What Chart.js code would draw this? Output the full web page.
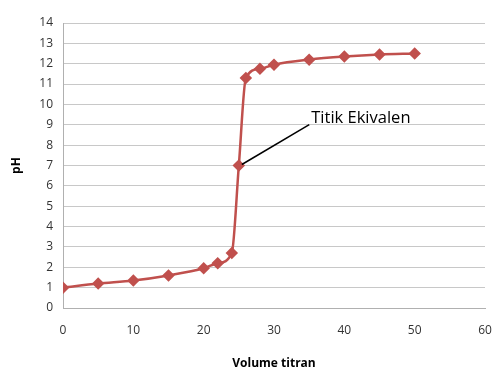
<!DOCTYPE html>
<html>
<head>
<meta charset="utf-8">
<script src="https://cdn.jsdelivr.net/npm/chart.js@4"></script>
<style>
  body { margin: 0; background: #fff; }
  #wrap { width: 497px; height: 373px; }
</style>
</head>
<body>
<div id="wrap"><canvas id="kurva"></canvas></div>
<script>
// volume titran (mL) dan pH
const volume = [0, 5, 10, 15, 20, 22, 24, 25, 26, 28, 30, 35, 40, 45, 50];
const ph = [1.0, 1.2, 1.35, 1.6, 1.95, 2.2, 2.7, 7.0, 11.3, 11.75, 11.95, 12.2, 12.35, 12.45, 12.5];
const xTicks = [0, 10, 20, 30, 40, 50, 60];
const yTicks = [0, 1, 2, 3, 4, 5, 6, 7, 8, 9, 10, 11, 12, 13, 14];

// label titik ekivalen
const ekivalen = { x: 25, y: 7, text: 'Titik Ekivalen', labelX: 35.3, labelY: 9.2 };

const labelEkivalen = {
  id: 'labelEkivalen',
  afterDatasetsDraw(chart) {
    const ctx = chart.ctx;
    const sx = chart.scales.x, sy = chart.scales.y;
    const px = sx.getPixelForValue(ekivalen.x) + 3;
    const py = sy.getPixelForValue(ekivalen.y) - 1;
    const lx = sx.getPixelForValue(ekivalen.labelX);
    const ly = sy.getPixelForValue(ekivalen.labelY);
    ctx.save();
    ctx.strokeStyle = '#000';
    ctx.lineWidth = 1.5;
    ctx.beginPath();
    ctx.moveTo(px, py);
    ctx.lineTo(lx - 2, ly + 4);
    ctx.stroke();
    ctx.fillStyle = '#000';
    ctx.font = '16.5px "Open Sans"';
    ctx.textBaseline = 'middle';
    ctx.fillText(ekivalen.text, lx, ly - 2);
    ctx.restore();
  }
};

const ctx = document.getElementById('kurva').getContext('2d');
new Chart(ctx, {
  type: 'line',
  data: {
    datasets: [{
      data: volume.map((v, i) => ({ x: v, y: ph[i] })),
      borderColor: '#C0504D',
      backgroundColor: '#C0504D',
      borderWidth: 2.5,
      pointStyle: 'rectRot',
      pointRadius: 4.5,
      pointHoverRadius: 4.5,
      cubicInterpolationMode: 'monotone'
    }]
  },
  options: {
    responsive: true,
    maintainAspectRatio: false,
    animation: false,
    layout: { padding: { top: 23, right: 12, left: 0, bottom: 0 } },
    plugins: {
      legend: { display: false },
      tooltip: { enabled: false }
    },
    scales: {
      x: {
        type: 'linear',
        min: 0,
        max: 60,
        afterBuildTicks(axis) { axis.ticks = xTicks.map(v => ({ value: v })); },
        afterFit(axis) {
          axis.height = 65;
          axis.paddingLeft = 0;
          axis.paddingRight = 0;
        },
        grid: { display: false, drawTicks: false },
        border: { color: '#b0b0b0' },
        ticks: { color: '#333', font: { family: 'Open Sans', size: 12 }, padding: 15 },
        title: {
          display: true,
          text: 'Volume titran',
          color: '#000',
          font: { family: 'Open Sans', size: 12, weight: 'bold' },
          padding: { top: 3, bottom: 2 }
        }
      },
      y: {
        min: 0,
        max: 14,
        afterBuildTicks(axis) { axis.ticks = yTicks.map(v => ({ value: v })); },
        afterFit(axis) { axis.width = 63; },
        grid: { color: '#c8c8c8', drawTicks: false },
        border: { color: '#b0b0b0' },
        ticks: { color: '#333', font: { family: 'Open Sans', size: 12 }, padding: 10 },
        title: {
          display: true,
          text: 'pH',
          color: '#000',
          font: { family: 'Open Sans', size: 12, weight: 'bold' },
          padding: { top: 9, bottom: 0 }
        }
      }
    }
  },
  plugins: [labelEkivalen]
});
</script>
</body>
</html>
